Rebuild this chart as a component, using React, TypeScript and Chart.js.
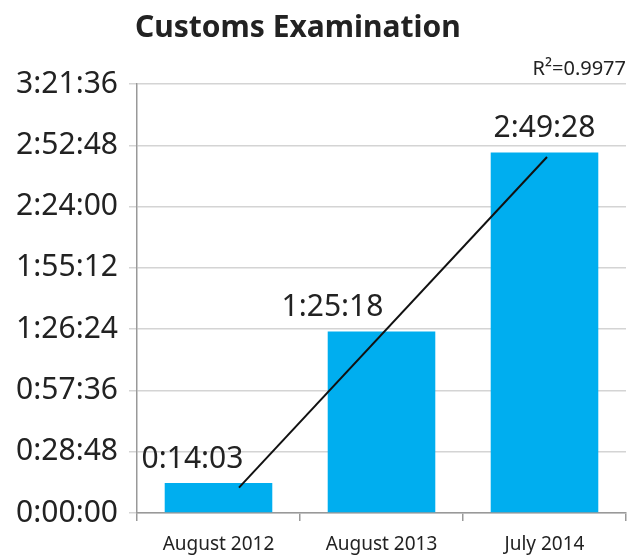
import React, { useEffect, useRef } from "react";
import { Chart, registerables } from "chart.js";

Chart.register(...registerables);

const categories = ["August 2012", "August 2013", "July 2014"];
// durations in seconds: 0:14:03, 1:25:18, 2:49:28
const durations = [843, 5118, 10168];
const yMax = 12096; // 3:21:36
const yStep = 1728; // 0:28:48
const labelShift = [-26, -49, 0];

const FONT = "'Noto Sans', sans-serif";

function fmt(s: number): string {
  const h = Math.floor(s / 3600);
  const m = Math.floor((s % 3600) / 60);
  const sec = Math.round(s % 60);
  return `${h}:${String(m).padStart(2, "0")}:${String(sec).padStart(2, "0")}`;
}

function regression(ys: number[]) {
  const n = ys.length;
  const xs = ys.map((_, i) => i);
  const mx = xs.reduce((a, b) => a + b, 0) / n;
  const my = ys.reduce((a, b) => a + b, 0) / n;
  let sxy = 0, sxx = 0;
  xs.forEach((x, i) => { sxy += (x - mx) * (ys[i] - my); sxx += (x - mx) ** 2; });
  const slope = sxy / sxx;
  const intercept = my - slope * mx;
  let ssRes = 0, ssTot = 0;
  xs.forEach((x, i) => {
    ssRes += (ys[i] - (intercept + slope * x)) ** 2;
    ssTot += (ys[i] - my) ** 2;
  });
  return { slope, intercept, r2: 1 - ssRes / ssTot };
}

export default function App() {
  const ref = useRef<HTMLCanvasElement>(null);
  useEffect(() => {
    document.body.style.margin = "0";
    const reg = regression(durations);
    const n = durations.length;
    const trend = [
      { x: 0, y: reg.intercept },
      { x: n - 1, y: reg.intercept + reg.slope * (n - 1) },
    ];
    const overlay = {
      id: "overlay",
      afterDatasetsDraw(chart: any) {
        const ctx = chart.ctx;
        const meta = chart.getDatasetMeta(0);
        ctx.save();
        ctx.fillStyle = "#222";
        ctx.font = `30px ${FONT}`;
        ctx.textAlign = "center";
        ctx.textBaseline = "alphabetic";
        meta.data.forEach((bar: any, i: number) => {
          ctx.fillText(fmt(durations[i]), bar.x + labelShift[i], bar.y - 15);
        });
        ctx.font = `bold 30px ${FONT}`;
        ctx.textAlign = "left";
        ctx.fillText("Customs Examination", 135, 37);
        ctx.font = `20px ${FONT}`;
        ctx.textAlign = "right";
        ctx.fillText(`R²=${reg.r2.toFixed(4)}`, 626, 75);
        ctx.restore();
      },
    };
    const chart = new Chart(ref.current!, {
      type: "bar",
      data: {
        labels: categories,
        datasets: [
          {
            type: "bar",
            data: durations,
            backgroundColor: "#00AEEF",
            barPercentage: 0.66,
            categoryPercentage: 1,
            grouped: false,
            order: 2,
          } as any,
          {
            type: "line",
            data: trend as any,
            xAxisID: "xt",
            borderColor: "#111",
            borderWidth: 2,
            pointRadius: 0,
            order: 1,
          } as any,
        ],
      },
      options: {
        responsive: false,
        animation: false,
        layout: { padding: { top: 84, right: 1, left: 0, bottom: 0 } },
        plugins: { legend: { display: false }, tooltip: { enabled: false }, title: { display: false } },
        scales: {
          x: {
            grid: { drawOnChartArea: false, drawTicks: true, offset: true, tickLength: 8, color: "#999", lineWidth: 1.5 },
            border: { color: "#999", width: 1.5 },
            ticks: { color: "#222", font: { family: FONT, size: 19 }, padding: 12 },
            afterFit: (s: any) => { s.height = 45; },
          },
          xt: {
            type: "linear",
            display: false,
            offset: false,
            bounds: "data",
            grid: { offset: false },
            min: -0.662,
            max: 2.513,
          } as any,
          y: {
            min: 0,
            max: yMax,
            grid: { color: "#d4d4d4", lineWidth: 1.5, tickLength: 8 },
            border: { color: "#999", width: 1.5 },
            ticks: {
              stepSize: yStep,
              color: "#222",
              font: { family: FONT, size: 30 },
              padding: 11,
              callback: (v: any) => fmt(Number(v)),
            },
            afterFit: (s: any) => { s.width = 137; },
          },
        },
      },
      plugins: [overlay],
    });
    return () => chart.destroy();
  }, []);
  return <canvas ref={ref} width={627} height={558} style={{ display: "block" }} />;
}
